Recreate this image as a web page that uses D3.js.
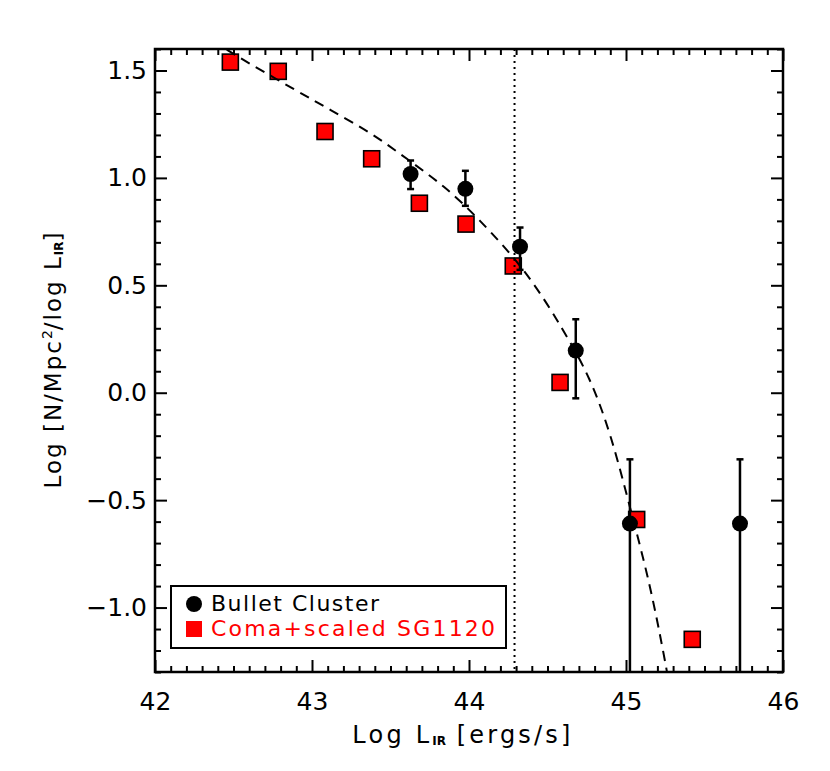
<!DOCTYPE html>
<html>
<head>
<meta charset="utf-8">
<script src="https://cdn.jsdelivr.net/npm/d3@7"></script>
<style>
  html, body { margin: 0; padding: 0; background: #fff; }
  svg { display: block; font-family: "DejaVu Sans", sans-serif; }
</style>
</head>
<body>
<svg id="chart" width="830" height="771"></svg>
<script>
// ---- data ----
const xMajorTicks = [42, 43, 44, 45, 46];
const yMajorTicks = [-1.0, -0.5, 0.0, 0.5, 1.0, 1.5];

const comaX = [42.48, 42.785, 43.083, 43.38, 43.684, 43.981, 44.282, 44.58, 45.068, 45.422];
const comaY = [1.539, 1.496, 1.216, 1.089, 0.882, 0.785, 0.59, 0.048, -0.59, -1.148];

const bulletX  = [43.628, 43.977, 44.325, 44.68, 45.025, 45.726];
const bulletY  = [1.018, 0.949, 0.68, 0.196, -0.609, -0.609];
const bulletHi = [1.081, 1.033, 0.769, 0.342, -0.31, -0.31];
const bulletLo = [0.948, 0.870, 0.572, -0.026, -2.0, -2.0];

const fitX = [42.457, 42.594, 42.892, 43.115, 43.38, 43.613, 43.847, 44.049, 44.368, 44.601, 44.771, 44.909, 45.025, 45.153, 45.248, 45.261];
const fitY = [1.597, 1.535, 1.41, 1.317, 1.209, 1.084, 0.96, 0.82, 0.567, 0.292, 0.074, -0.205, -0.533, -0.888, -1.246, -1.30];

const cutX = 44.29;

const legendNames = ["Bullet Cluster", "Coma+scaled SG1120"];
const legendColors = ["#000000", "#ff0000"];

// ---- layout ----
const L = 155, R = 783, T = 49, B = 672;
const svg = d3.select("#chart");

const x = d3.scaleLinear().domain([42, 46]).range([L, R]);
const y = d3.scaleLinear().domain([-1.3, 1.6]).range([B, T]);

svg.append("defs").append("clipPath").attr("id", "plotclip")
  .append("rect").attr("x", L).attr("y", T).attr("width", R - L).attr("height", B - T);

const xMinor = d3.range(421, 461).map(v => v / 10).filter(v => !xMajorTicks.includes(v));
const yMinor = d3.range(-13, 17).map(v => v / 10).filter(v => !yMajorTicks.some(t => Math.abs(t - v) < 1e-9));

function styleAxis(g) {
  g.select(".domain").remove();
  g.selectAll(".tick line").attr("stroke", "#000").attr("stroke-width", 2);
  g.selectAll(".tick text").attr("fill", "#000").attr("font-family", "DejaVu Sans, sans-serif");
}

// bottom
svg.append("g").attr("transform", `translate(0,${B})`)
  .call(d3.axisBottom(x).tickValues(xMajorTicks).tickSize(-12).tickPadding(20).tickFormat(d3.format("d")))
  .call(styleAxis).call(g => g.selectAll(".tick text").attr("font-size", 25));
svg.append("g").attr("transform", `translate(0,${B})`)
  .call(d3.axisBottom(x).tickValues(xMinor).tickSize(-6).tickFormat(""))
  .call(styleAxis);
// top
svg.append("g").attr("transform", `translate(0,${T})`)
  .call(d3.axisTop(x).tickValues(xMajorTicks).tickSize(-12).tickFormat(""))
  .call(styleAxis);
svg.append("g").attr("transform", `translate(0,${T})`)
  .call(d3.axisTop(x).tickValues(xMinor).tickSize(-6).tickFormat(""))
  .call(styleAxis);
// left
svg.append("g").attr("transform", `translate(${L},0)`)
  .call(d3.axisLeft(y).tickValues(yMajorTicks).tickSize(-12).tickPadding(8).tickFormat(d3.format(".1f")))
  .call(styleAxis).call(g => g.selectAll(".tick text").attr("font-size", 25));
svg.append("g").attr("transform", `translate(${L},0)`)
  .call(d3.axisLeft(y).tickValues(yMinor).tickSize(-6).tickFormat(""))
  .call(styleAxis);
// right
svg.append("g").attr("transform", `translate(${R},0)`)
  .call(d3.axisRight(y).tickValues(yMajorTicks).tickSize(-12).tickFormat(""))
  .call(styleAxis);
svg.append("g").attr("transform", `translate(${R},0)`)
  .call(d3.axisRight(y).tickValues(yMinor).tickSize(-6).tickFormat(""))
  .call(styleAxis);

// frame
svg.append("rect").attr("x", L).attr("y", T).attr("width", R - L).attr("height", B - T)
  .attr("fill", "none").attr("stroke", "#000").attr("stroke-width", 2.5);

const plot = svg.append("g").attr("clip-path", "url(#plotclip)");

// red squares
const sq = 16;
plot.selectAll("rect.coma").data(comaX.map((v, i) => [v, comaY[i]])).join("rect")
  .attr("class", "coma")
  .attr("x", d => x(d[0]) - sq / 2).attr("y", d => y(d[1]) - sq / 2)
  .attr("width", sq).attr("height", sq)
  .attr("fill", "#ff0000").attr("stroke", "#000").attr("stroke-width", 1.6);

// dotted vertical line
plot.append("line")
  .attr("x1", x(cutX)).attr("x2", x(cutX)).attr("y1", T).attr("y2", B)
  .attr("stroke", "#000").attr("stroke-width", 2).attr("stroke-dasharray", "2,4");

// dashed fit curve
const line = d3.line().x(d => x(d[0])).y(d => y(d[1])).curve(d3.curveBasis);
plot.append("path").datum(fitX.map((v, i) => [v, fitY[i]]))
  .attr("d", line).attr("fill", "none").attr("stroke", "#000")
  .attr("stroke-width", 2).attr("stroke-dasharray", "10,7");

// bullet cluster error bars + circles
const bData = bulletX.map((v, i) => ({ x: v, y: bulletY[i], hi: bulletHi[i], lo: bulletLo[i] }));
const eb = plot.selectAll("g.eb").data(bData).join("g").attr("class", "eb");
eb.append("line").attr("x1", d => x(d.x)).attr("x2", d => x(d.x))
  .attr("y1", d => y(d.hi)).attr("y2", d => y(d.lo))
  .attr("stroke", "#000").attr("stroke-width", 2.5);
eb.append("line").attr("x1", d => x(d.x) - 3.5).attr("x2", d => x(d.x) + 3.5)
  .attr("y1", d => y(d.hi)).attr("y2", d => y(d.hi))
  .attr("stroke", "#000").attr("stroke-width", 2.5);
eb.append("line").attr("x1", d => x(d.x) - 3.5).attr("x2", d => x(d.x) + 3.5)
  .attr("y1", d => y(d.lo)).attr("y2", d => y(d.lo))
  .attr("stroke", "#000").attr("stroke-width", 2.5);
eb.append("circle").attr("cx", d => x(d.x)).attr("cy", d => y(d.y)).attr("r", 8).attr("fill", "#000");

// legend
const lg = svg.append("g");
lg.append("rect").attr("x", 171).attr("y", 586).attr("width", 335).attr("height", 62)
  .attr("fill", "#fff").attr("stroke", "#000").attr("stroke-width", 2);
lg.append("circle").attr("cx", 194).attr("cy", 604).attr("r", 8).attr("fill", legendColors[0]);
lg.append("rect").attr("x", 186).attr("y", 621).attr("width", 16).attr("height", 16).attr("fill", legendColors[1]);
lg.append("text").attr("x", 211).attr("y", 611).attr("font-size", 22).attr("fill", legendColors[0])
  .attr("textLength", 168).attr("lengthAdjust", "spacing").text(legendNames[0]);
lg.append("text").attr("x", 211).attr("y", 636).attr("font-size", 22).attr("fill", legendColors[1])
  .attr("textLength", 284).attr("lengthAdjust", "spacing").text(legendNames[1]);

// x axis title
const xt = svg.append("text").attr("x", 463).attr("y", 743).attr("text-anchor", "middle")
  .attr("font-size", 24).attr("fill", "#000");
xt.append("tspan").attr("letter-spacing", 3.2).text("Log L");
xt.append("tspan").attr("font-size", 12).attr("font-weight", "bold").attr("dy", 2).text("IR");
xt.append("tspan").attr("letter-spacing", 3.2).attr("dy", -2).text("  [ergs/s]");

// y axis title
const yt = svg.append("text").attr("transform", `translate(61,${(T + B) / 2}) rotate(-90)`)
  .attr("text-anchor", "middle").attr("font-size", 23).attr("fill", "#000");
yt.append("tspan").attr("letter-spacing", 2).text("Log [N/Mpc");
yt.append("tspan").attr("font-size", 14).attr("dy", -9).text("2");
yt.append("tspan").attr("letter-spacing", 2).attr("dy", 9).text("/log L");
yt.append("tspan").attr("font-size", 12).attr("font-weight", "bold").attr("dy", 2).text("IR");
yt.append("tspan").attr("dy", -2).text("]");
</script>
</body>
</html>
